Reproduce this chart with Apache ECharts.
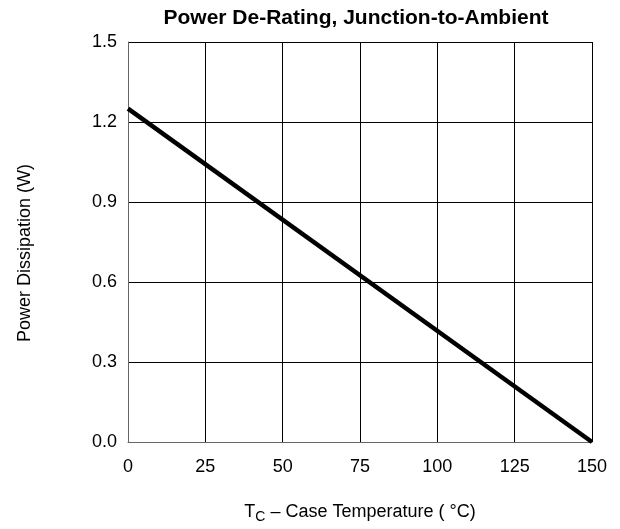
<!DOCTYPE html>
<html><head><meta charset="utf-8">
<script src="https://cdn.jsdelivr.net/npm/echarts@6/dist/echarts.min.js"></script>
<style>html,body{margin:0;padding:0;background:#fff}#c{width:620px;height:529px}</style>
</head><body><div id="c"></div>
<script>
const temps = [0, 150];
const power = [1.25, 0];
const xTicks = [0, 25, 50, 75, 100, 125, 150];
const yTicks = [0.0, 0.3, 0.6, 0.9, 1.2, 1.5];
const FONT = '"Liberation Sans", Arial, Helvetica, sans-serif';
const chart = echarts.init(document.getElementById('c'));
chart.setOption({
  animation: false,
  title: { text: 'Power De-Rating, Junction-to-Ambient', left: 356, textAlign: 'center', top: 8, padding: 0,
    textStyle: { fontFamily: FONT, fontSize: 21, fontWeight: 'bold', color: '#000' } },
  grid: { left: 128, right: 28, top: 42, bottom: 84 },
  xAxis: { type: 'value', min: xTicks[0], max: xTicks[xTicks.length-1], interval: 25,
    name: '{t|T}{s|C}{t| – Case Temperature ( °C)}', nameLocation: 'middle', nameGap: 58,
    nameTextStyle: { rich: {
      t: { fontFamily: FONT, fontSize: 18, color: '#000' },
      s: { fontFamily: FONT, fontSize: 14, color: '#000', padding: [10,0,0,0] } } },
    axisLine: { lineStyle: { color: '#666', width: 1 } }, axisTick: { show: false },
    axisLabel: { fontFamily: FONT, fontSize: 18, color: '#000', margin: 16 },
    splitLine: { show: true, lineStyle: { color: '#000', width: 1 } } },
  yAxis: { type: 'value', min: yTicks[0], max: yTicks[yTicks.length-1], interval: 0.3,
    name: 'Power Dissipation (W)', nameLocation: 'middle', nameGap: 94,
    nameTextStyle: { fontFamily: FONT, fontSize: 18, color: '#000', padding: [0, 22, 0, 0] },
    axisLine: { show: true, lineStyle: { color: '#666', width: 1 } }, axisTick: { show: false },
    axisLabel: { fontFamily: FONT, fontSize: 18, color: '#000', margin: 11, formatter: v => v.toFixed(1) },
    splitLine: { show: true, lineStyle: { color: '#000', width: 1 } } },
  series: [{ type: 'line', data: temps.map((t,i)=>[t, power[i]]), symbol: 'none',
    lineStyle: { color: '#000', width: 4.5 } }]
});
</script></body></html>
